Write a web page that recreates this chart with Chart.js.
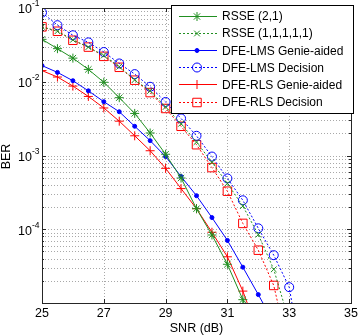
<!DOCTYPE html>
<html>
<head>
<meta charset="utf-8">
<script src="https://cdn.jsdelivr.net/npm/chart.js@4.4.1/dist/chart.umd.min.js"></script>
<style>
  html, body { margin: 0; padding: 0; background: #fff; }
  #wrap { width: 358px; height: 336px; }
</style>
</head>
<body>
<div id="wrap"><canvas id="berChart" width="358" height="336"></canvas></div>
<script>
// SNR grid (dB), shared by all curves
const snr = [25, 25.5, 26, 26.5, 27, 27.5, 28, 28.5, 29, 29.5, 30, 30.5, 31, 31.5, 32, 32.5, 33, 33.5];

// BER values (null = not plotted)
const rsse21      = [0.0376, 0.0281, 0.0209, 0.0147, 0.00984, 0.00608, 0.00372, 0.00202, 0.00104, 0.000495, 0.00019, 8.36e-5, 3.35e-5, 1.11e-5, 2.5e-6, null, null, null];
const rsse11111   = [0.0555, 0.0484, 0.037, 0.0295, 0.0227, 0.016, 0.0106, 0.00753, 0.00455, 0.00269, 0.00152, 0.00081, 0.000418, 0.000206, 8.45e-5, 2.86e-5, 5.6e-6, null];
const lmsGenie    = [0.01656, 0.0134, 0.01033, 0.00753, 0.00537, 0.00392, 0.00249, 0.00159, 0.000968, 0.00052, 0.000285, 0.000144, 7.06e-5, 3.06e-5, 1.3e-5, 5.4e-6, null, null];
const lmsDecision = [0.0867, 0.0585, 0.0427, 0.0342, 0.0253, 0.0177, 0.0127, 0.00855, 0.00532, 0.00318, 0.00185, 0.000968, 0.000489, 0.000247, 0.000103, 4.45e-5, 1.64e-5, 1e-6];
const rlsGenie    = [0.01416, 0.01159, 0.00873, 0.00632, 0.00441, 0.00292, 0.00185, 0.00116, 0.00067, 0.000356, 0.00019, 9.1e-5, 4.23e-5, 1.45e-5, 3.9e-6, null, null, null];
const rlsDecision = [0.0555, 0.0484, 0.0365, 0.0295, 0.0221, 0.0157, 0.0105, 0.00713, 0.00434, 0.00249, 0.0014, 0.000686, 0.000328, 0.00012, 5.2e-5, 1.73e-5, 2.1e-6, null];

// axis ticks
const xTicks = [25, 27, 29, 31, 33, 35];
const yTickExps = [-1, -2, -3, -4];

const GREEN = '#218f21';
const BLUE = '#0000ff';
const RED = '#ff0000';
const FONT = '"Liberation Sans", Arial, sans-serif';

function pts(vals) {
  let out = [];
  vals.forEach((v, i) => { if (v !== null) out.push({ x: snr[i], y: v }); });
  return out;
}

function series(label, vals, color, dashed, style, radius, filled) {
  return {
    label: label,
    data: pts(vals),
    borderColor: color,
    borderWidth: 1,
    borderDash: dashed ? [2, 2] : [],
    pointStyle: style,
    pointRadius: radius,
    pointBorderColor: color,
    pointBackgroundColor: filled ? color : 'rgba(0,0,0,0)',
    pointBorderWidth: 1,
    fill: false,
    tension: 0
  };
}

const matlabAxes = {
  id: 'matlabAxes',
  beforeDatasetsDraw(chart) {
    const { ctx, chartArea: a, scales: { x, y } } = chart;
    ctx.save();
    ctx.strokeStyle = '#a8a8a8';
    ctx.lineWidth = 1;
    ctx.setLineDash([1, 2]);
    ctx.beginPath();
    xTicks.forEach(v => {
      const px = Math.round(x.getPixelForValue(v)) + 0.5;
      ctx.moveTo(px, a.top); ctx.lineTo(px, a.bottom);
    });
    for (let d = -5; d <= -2; d++) {
      for (let m = 1; m <= 9; m++) {
        const py = Math.round(y.getPixelForValue(m * Math.pow(10, d))) + 0.5;
        ctx.moveTo(a.left, py); ctx.lineTo(a.right, py);
      }
    }
    ctx.stroke();
    ctx.restore();
  },
  afterDatasetsDraw(chart) {
    const { ctx, chartArea: a, scales: { x, y } } = chart;
    ctx.save();
    ctx.setLineDash([]);
    ctx.strokeStyle = '#262626';
    ctx.lineWidth = 1;
    // inward tick marks
    ctx.beginPath();
    xTicks.forEach(v => {
      const px = Math.round(x.getPixelForValue(v)) + 0.5;
      ctx.moveTo(px, a.bottom); ctx.lineTo(px, a.bottom - 4);
      ctx.moveTo(px, a.top); ctx.lineTo(px, a.top + 4);
    });
    for (let d = -5; d <= -2; d++) {
      for (let m = 1; m <= 9; m++) {
        const py = Math.round(y.getPixelForValue(m * Math.pow(10, d))) + 0.5;
        const len = m === 1 ? 4 : 2;
        ctx.moveTo(a.left, py); ctx.lineTo(a.left + len, py);
        ctx.moveTo(a.right, py); ctx.lineTo(a.right - len, py);
      }
    }
    ctx.stroke();
    // frame
    ctx.strokeRect(Math.round(a.left) + 0.5, Math.round(a.top) + 0.5,
                   Math.round(a.right - a.left), Math.round(a.bottom - a.top));

    // tick labels
    ctx.fillStyle = '#000';
    ctx.font = '12.5px ' + FONT;
    ctx.textAlign = 'center';
    ctx.textBaseline = 'middle';
    xTicks.forEach(v => ctx.fillText(String(v), x.getPixelForValue(v), a.bottom + 11));
    yTickExps.forEach(e => {
      const py = y.getPixelForValue(Math.pow(10, e));
      ctx.font = '12.5px ' + FONT;
      ctx.textAlign = 'right';
      ctx.fillText('10', a.left - 10, py + 2);
      ctx.font = '8.5px ' + FONT;
      ctx.textAlign = 'left';
      ctx.fillText(String(e), a.left - 10, py - 4);
    });

    // axis titles
    ctx.font = '12.5px ' + FONT;
    ctx.textAlign = 'center';
    ctx.fillText('SNR (dB)', (a.left + a.right) / 2, a.bottom + 26);
    ctx.save();
    ctx.translate(7, (a.top + a.bottom) / 2 + 1);
    ctx.rotate(-Math.PI / 2);
    ctx.fillText('BER', 0, 0);
    ctx.restore();

    // legend box
    const lx = a.right - 180, ly = a.top - 3, lw = 182, lh = 108;
    ctx.fillStyle = '#fff';
    ctx.fillRect(lx, ly, lw, lh);
    ctx.strokeStyle = '#000';
    ctx.strokeRect(lx + 0.5, ly + 0.5, lw, lh);
    chart.data.datasets.forEach((ds, i) => {
      const ry = ly + 11 + i * 17.1;
      ctx.strokeStyle = ds.borderColor;
      ctx.lineWidth = 1;
      ctx.setLineDash(ds.borderDash);
      ctx.beginPath();
      ctx.moveTo(lx + 8, Math.round(ry) + 0.5);
      ctx.lineTo(lx + 46, Math.round(ry) + 0.5);
      ctx.stroke();
      ctx.setLineDash([]);
      ctx.fillStyle = ds.pointBackgroundColor;
      Chart.helpers.drawPoint(ctx, {
        pointStyle: ds.pointStyle, radius: ds.pointRadius, borderWidth: 1, rotation: 0
      }, lx + 26, Math.round(ry) + 0.5);
      ctx.fillStyle = '#000';
      ctx.font = '12px ' + FONT;
      ctx.textAlign = 'left';
      ctx.textBaseline = 'middle';
      ctx.fillText(ds.label, lx + 51, ry + 1);
    });
    ctx.restore();
  }
};

const ctx = document.getElementById('berChart').getContext('2d');
const berChart = new Chart(ctx, {
  type: 'line',
  data: {
    datasets: [
      series('RSSE (2,1)', rsse21, GREEN, false, 'star', 4.5, false),
      series('RSSE (1,1,1,1,1)', rsse11111, GREEN, true, 'crossRot', 4, false),
      series('DFE-LMS Genie-aided', lmsGenie, BLUE, false, 'circle', 2, true),
      series('DFE-LMS Decision', lmsDecision, BLUE, true, 'circle', 4.5, false),
      series('DFE-RLS Genie-aided', rlsGenie, RED, false, 'cross', 4.5, false),
      series('DFE-RLS Decision', rlsDecision, RED, true, 'rect', 6, false)
    ]
  },
  options: {
    responsive: false,
    animation: false,
    layout: { padding: { left: 42, top: 8, right: 6, bottom: 33 } },
    plugins: { legend: { display: false }, tooltip: { enabled: false } },
    scales: {
      x: { type: 'linear', min: 25, max: 35, display: false },
      y: { type: 'logarithmic', min: 1e-5, max: 1e-1, display: false }
    }
  },
  plugins: [matlabAxes]
});
</script>
</body>
</html>
